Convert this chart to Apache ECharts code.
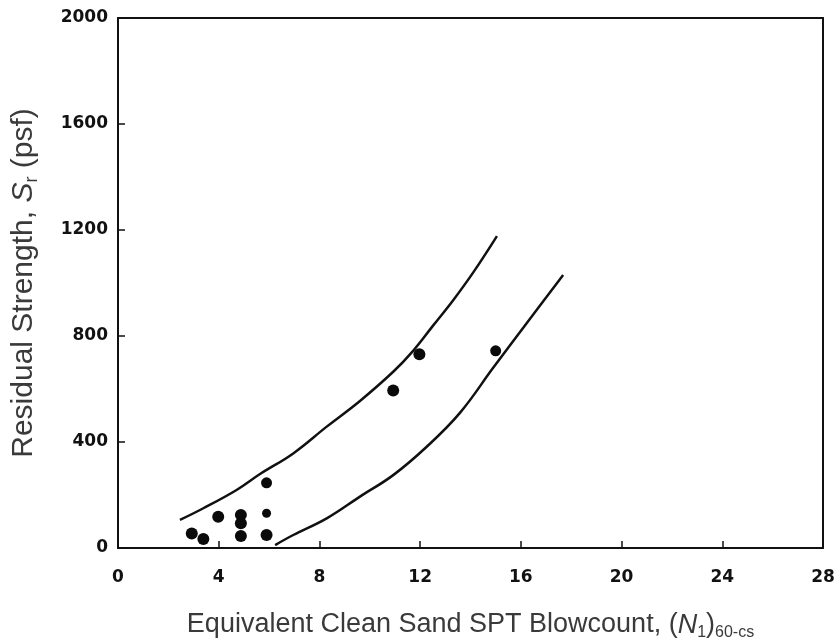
<!DOCTYPE html>
<html>
<head>
<meta charset="utf-8">
<script src="https://cdn.jsdelivr.net/npm/echarts@6/dist/echarts.min.js"></script>
<style>html,body{margin:0;padding:0;background:#fff;}#c{width:840px;height:641px;}</style>
</head>
<body>
<div id="c"></div>
<script>
// Case-history data points: [(N1)60-cs, Sr (psf)]
var pointsX = [2.93, 3.39, 3.98, 4.88, 4.88, 4.88, 5.9, 5.9, 5.9, 10.93, 11.97, 15.0];
var pointsY = [55, 34, 118, 125, 93, 45, 246, 131, 49, 594, 731, 744];
var pointSizes = [12, 12, 12, 12, 12, 12, 11, 9, 12, 12, 12, 11];

// Upper bound curve
var upperX = [2.46, 3.39, 4.71, 5.64, 6.96, 8.29, 9.61, 10.93, 11.73, 12.52, 13.32, 14.11, 15.05];
var upperY = [106, 150, 219, 279, 357, 458, 555, 665, 745, 840, 936, 1040, 1177];

// Lower bound curve
var lowerX = [6.24, 6.96, 8.29, 9.61, 10.93, 12.26, 13.58, 14.9, 16.23, 17.68];
var lowerY = [11, 49, 112, 194, 275, 382, 510, 680, 848, 1030];

var xTicks = [0, 4, 8, 12, 16, 20, 24, 28];
var yTicks = [0, 400, 800, 1200, 1600, 2000];

function zip(a, b) { return a.map(function (v, i) { return [v, b[i]]; }); }

var chart = echarts.init(document.getElementById('c'), null, { renderer: 'canvas' });
var tickFont = { fontFamily: 'DejaVu Sans', fontSize: 17, color: '#111', fontWeight: 'bold' };
var axisLine = { show: true, onZero: false, lineStyle: { color: '#111', width: 2 } };

function nameRich(size, subSize) {
  return {
    t: { fontFamily: 'Liberation Sans', fontSize: size, color: '#3a3a3a', lineHeight: size + 5, verticalAlign: 'middle' },
    i: { fontFamily: 'Liberation Sans', fontSize: size, color: '#3a3a3a', fontStyle: 'italic', lineHeight: size + 5, verticalAlign: 'middle' },
    s: { fontFamily: 'Liberation Sans', fontSize: subSize, color: '#3a3a3a', lineHeight: subSize, verticalAlign: 'bottom' }
  };
}

chart.setOption({
  backgroundColor: '#fff',
  animation: false,
  grid: { left: 118, right: 17, top: 18, bottom: 93, show: false, containLabel: false, outerBoundsMode: 'none' },
  xAxis: [{
    type: 'value', min: 0, max: 28, interval: 4,
    position: 'bottom',
    axisLine: axisLine,
    axisTick: { show: true, inside: true, length: 7, lineStyle: { color: '#111', width: 1.5 } },
    axisLabel: Object.assign({ margin: 21, formatter: function (v) { return xTicks.indexOf(v) >= 0 ? String(v) : ''; } }, tickFont),
    splitLine: { show: false },
    name: '{t|Equivalent Clean Sand SPT Blowcount, (}{i|N}{s|1}{t|)}{s|60-cs}',
    nameLocation: 'middle', nameGap: 61,
    nameTextStyle: { rich: nameRich(27, 16) }
  }, {
    type: 'value', min: 0, max: 28, interval: 4,
    position: 'top',
    axisLine: axisLine,
    axisTick: { show: false },
    axisLabel: { show: false },
    splitLine: { show: false }
  }],
  yAxis: [{
    type: 'value', min: 0, max: 2000, interval: 400,
    position: 'left',
    axisLine: axisLine,
    axisTick: { show: true, inside: true, length: 7, lineStyle: { color: '#111', width: 1.5 } },
    axisLabel: Object.assign({ margin: 10, formatter: function (v) { return yTicks.indexOf(v) >= 0 ? String(v) : ''; } }, tickFont),
    splitLine: { show: false },
    name: '{t|Residual Strength, }{i|S}{s|r}{t| (psf)}',
    nameLocation: 'middle', nameGap: 77,
    nameTextStyle: { rich: nameRich(30, 18) }
  }, {
    type: 'value', min: 0, max: 2000, interval: 400,
    position: 'right',
    axisLine: axisLine,
    axisTick: { show: false },
    axisLabel: { show: false },
    splitLine: { show: false }
  }],
  series: [{
    type: 'line', smooth: 0.4, showSymbol: false,
    data: zip(upperX, upperY),
    lineStyle: { color: '#111', width: 2.5 }
  }, {
    type: 'line', smooth: 0.4, showSymbol: false,
    data: zip(lowerX, lowerY),
    lineStyle: { color: '#111', width: 2.5 }
  }, {
    type: 'scatter',
    data: pointsX.map(function (x, i) { return { value: [x, pointsY[i]], symbolSize: pointSizes[i] }; }),
    symbol: 'circle',
    itemStyle: { color: '#0a0a0a', opacity: 1 }
  }]
});
</script>
</body>
</html>
